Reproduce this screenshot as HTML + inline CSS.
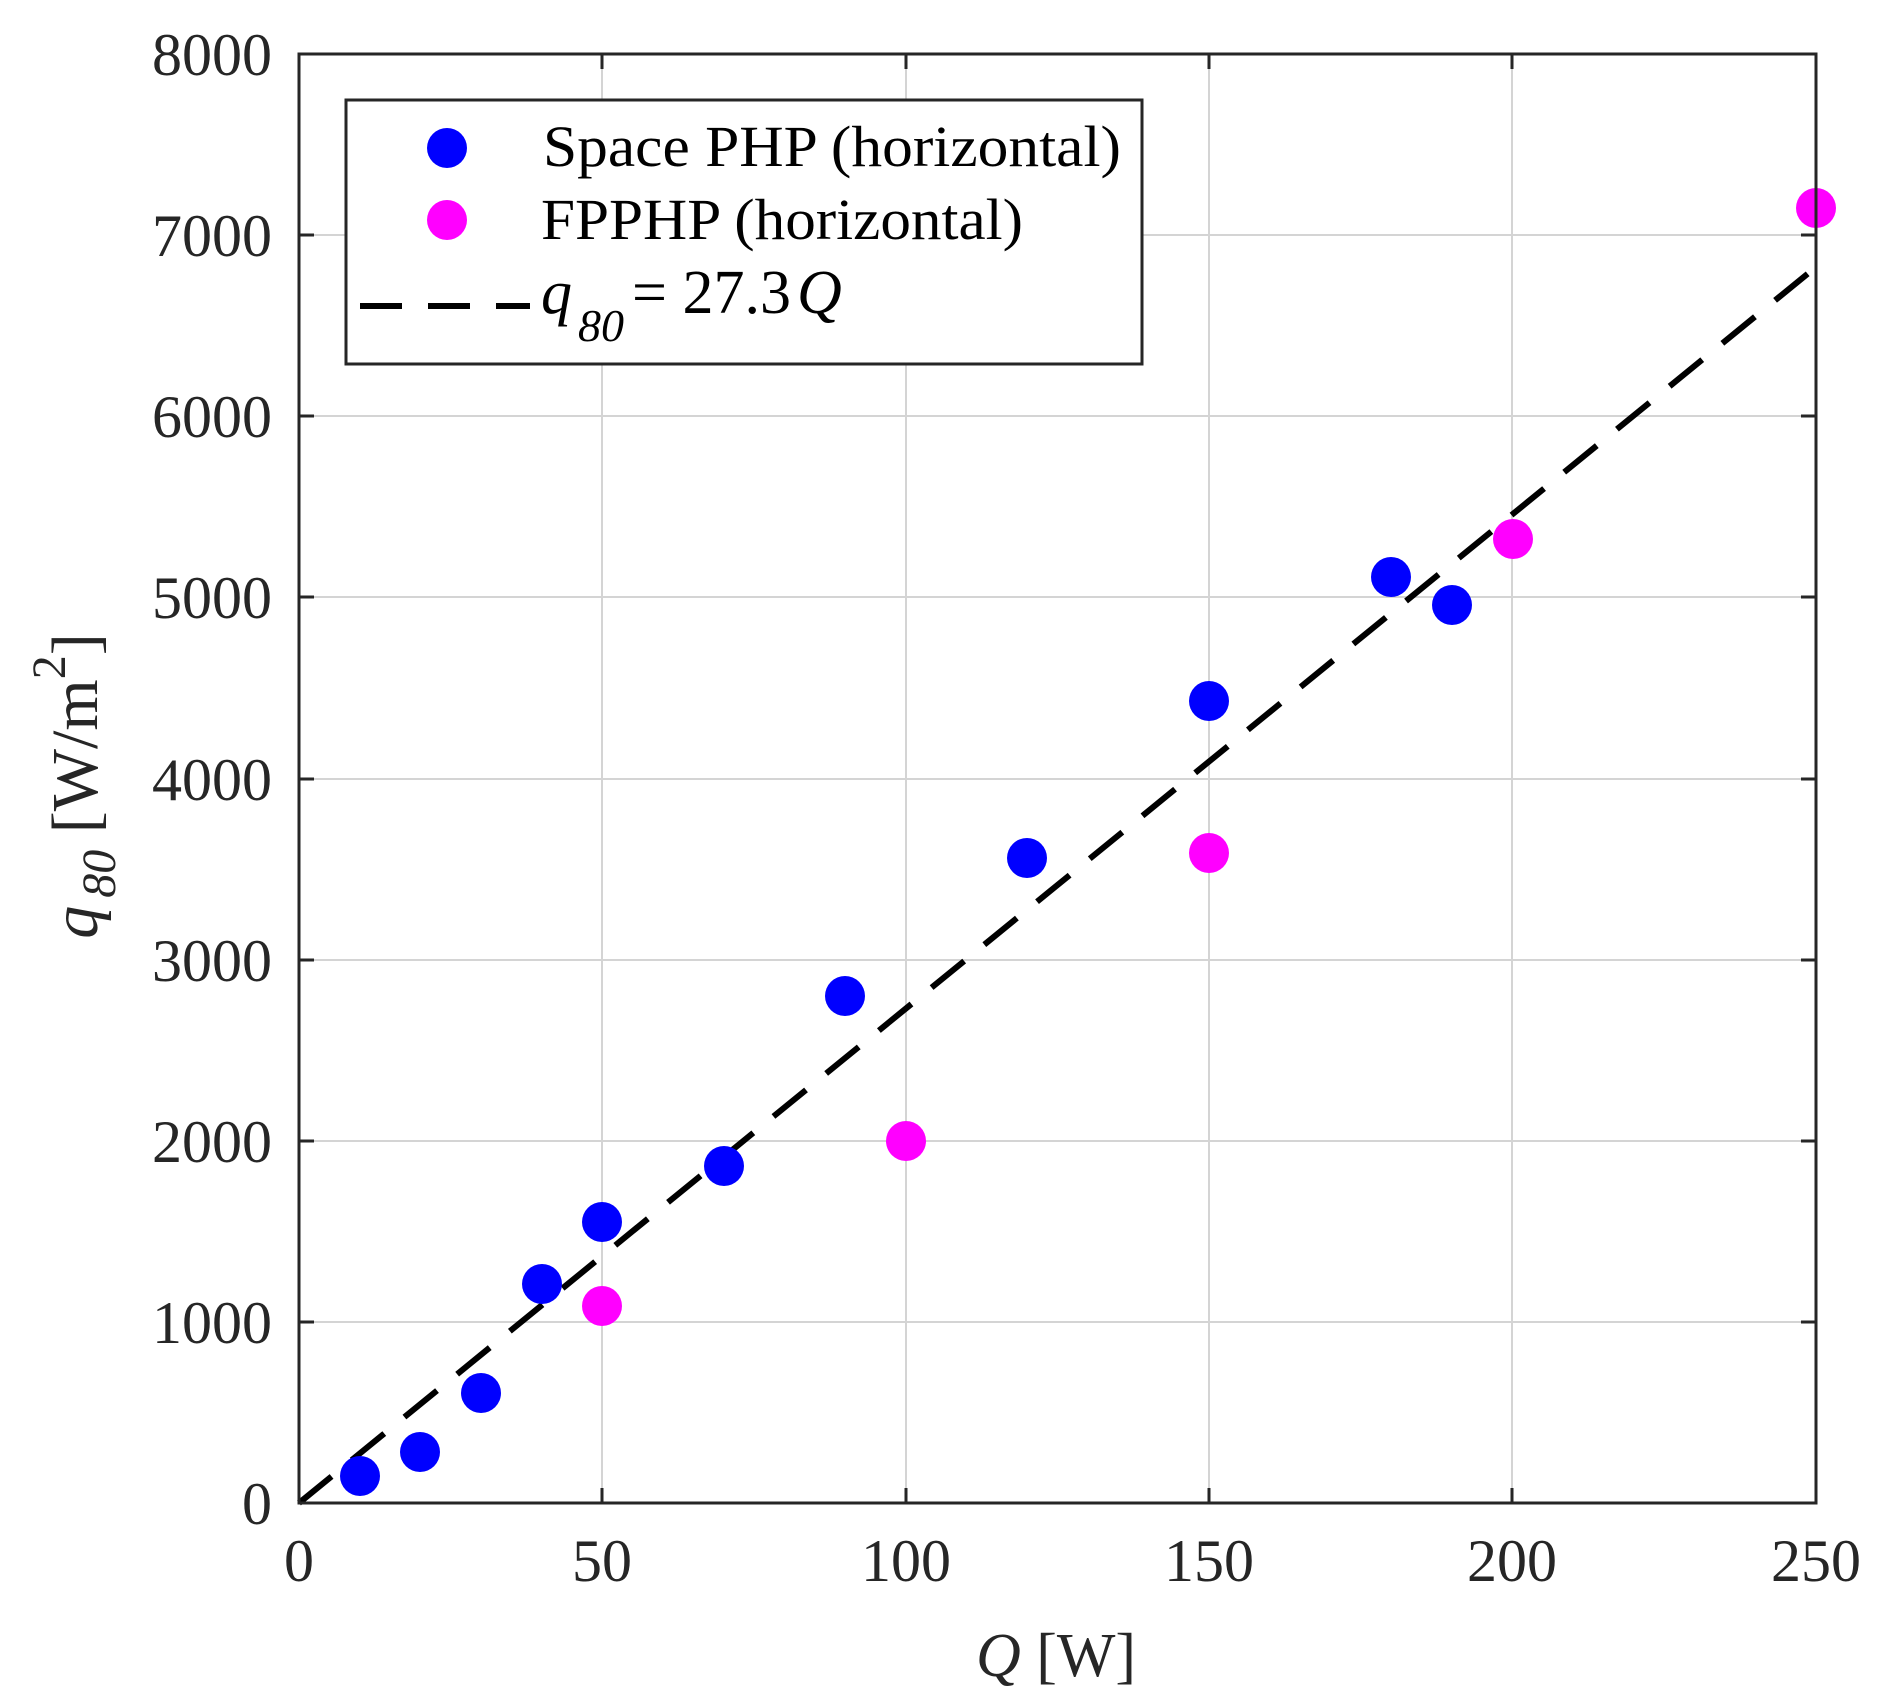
<!DOCTYPE html>
<html><head><meta charset="utf-8"><style>html,body{margin:0;padding:0;background:#fff}svg{display:block}</style></head>
<body>
<svg width="1877" height="1698" viewBox="0 0 1877 1698" xmlns="http://www.w3.org/2000/svg" font-family="'Liberation Serif', serif" fill="#262626">
<rect width="1877" height="1698" fill="#fff"/>
<g stroke="#d4d4d4" stroke-width="2">
<line x1="602" y1="54" x2="602" y2="1503"/><line x1="906" y1="54" x2="906" y2="1503"/><line x1="1209" y1="54" x2="1209" y2="1503"/><line x1="1512" y1="54" x2="1512" y2="1503"/>
<line x1="299" y1="1322" x2="1816" y2="1322"/><line x1="299" y1="1141" x2="1816" y2="1141"/><line x1="299" y1="960" x2="1816" y2="960"/><line x1="299" y1="779" x2="1816" y2="779"/><line x1="299" y1="597" x2="1816" y2="597"/><line x1="299" y1="416" x2="1816" y2="416"/><line x1="299" y1="235" x2="1816" y2="235"/>
</g>
<g stroke="#262626" stroke-width="3">
<line x1="602" y1="1503" x2="602" y2="1488"/><line x1="906" y1="1503" x2="906" y2="1488"/><line x1="1209" y1="1503" x2="1209" y2="1488"/><line x1="1512" y1="1503" x2="1512" y2="1488"/>
<line x1="602" y1="54" x2="602" y2="69"/><line x1="906" y1="54" x2="906" y2="69"/><line x1="1209" y1="54" x2="1209" y2="69"/><line x1="1512" y1="54" x2="1512" y2="69"/>
<line x1="299" y1="1322" x2="314" y2="1322"/><line x1="299" y1="1141" x2="314" y2="1141"/><line x1="299" y1="960" x2="314" y2="960"/><line x1="299" y1="779" x2="314" y2="779"/><line x1="299" y1="597" x2="314" y2="597"/><line x1="299" y1="416" x2="314" y2="416"/><line x1="299" y1="235" x2="314" y2="235"/>
<line x1="1816" y1="1322" x2="1801" y2="1322"/><line x1="1816" y1="1141" x2="1801" y2="1141"/><line x1="1816" y1="960" x2="1801" y2="960"/><line x1="1816" y1="779" x2="1801" y2="779"/><line x1="1816" y1="597" x2="1801" y2="597"/><line x1="1816" y1="416" x2="1801" y2="416"/><line x1="1816" y1="235" x2="1801" y2="235"/>
</g>
<line x1="299" y1="1503" x2="1816" y2="267" stroke="#000" stroke-width="6" stroke-dasharray="42 26"/>
<g fill="#0000ff">
<circle cx="360" cy="1476" r="20"/><circle cx="420" cy="1452" r="20"/><circle cx="481" cy="1393" r="20"/><circle cx="542" cy="1284" r="20"/><circle cx="602" cy="1222" r="20"/><circle cx="724" cy="1166" r="20"/><circle cx="845" cy="996" r="20"/><circle cx="1027" cy="858" r="20"/><circle cx="1209" cy="701" r="20"/><circle cx="1391" cy="577" r="20"/><circle cx="1452" cy="605" r="20"/>
</g>
<g fill="#ff00ff">
<circle cx="602" cy="1306" r="20"/><circle cx="906" cy="1141" r="20"/><circle cx="1209" cy="853" r="20"/><circle cx="1513" cy="539" r="20"/><circle cx="1816" cy="208" r="20"/>
</g>
<rect x="299" y="54" width="1517" height="1449" fill="none" stroke="#262626" stroke-width="3"/>
<g font-size="60" text-anchor="end">
<text x="272" y="1524">0</text><text x="272" y="1343">1000</text><text x="272" y="1162">2000</text><text x="272" y="981">3000</text><text x="272" y="800">4000</text><text x="272" y="618">5000</text><text x="272" y="437">6000</text><text x="272" y="256">7000</text><text x="272" y="75">8000</text>
</g>
<g font-size="60" text-anchor="middle">
<text x="299" y="1581">0</text><text x="602" y="1581">50</text><text x="906" y="1581">100</text><text x="1209" y="1581">150</text><text x="1512" y="1581">200</text><text x="1816" y="1581">250</text>
</g>
<text x="1056" y="1676" font-size="62" text-anchor="middle"><tspan font-style="italic">Q</tspan> [W]</text>
<text transform="translate(97,786) rotate(-90)" font-size="66" text-anchor="middle"><tspan font-style="italic">q</tspan><tspan font-style="italic" font-size="48" dy="18" dx="8">80</tspan><tspan dy="-18"> [W/m</tspan><tspan font-size="48" dy="-32">2</tspan><tspan dy="32">]</tspan></text>
<rect x="346" y="100" width="796" height="264" fill="#fff" stroke="#262626" stroke-width="3"/>
<circle cx="447" cy="148" r="20" fill="#0000ff"/>
<circle cx="447" cy="220" r="20" fill="#ff00ff"/>
<line x1="360" y1="306" x2="530" y2="306" stroke="#000" stroke-width="6" stroke-dasharray="42 26"/>
<g font-size="58" fill="#000">
<text x="543" y="166" textLength="578" lengthAdjust="spacingAndGlyphs">Space PHP (horizontal)</text>
<text x="541" y="239" textLength="482" lengthAdjust="spacingAndGlyphs">FPPHP (horizontal)</text>
<text x="541" y="313" font-size="62"><tspan font-style="italic">q</tspan><tspan font-style="italic" font-size="46" dy="28" dx="6">80</tspan><tspan dy="-28" dx="8">= 27.3</tspan><tspan font-style="italic" dx="6">Q</tspan></text>
</g>
</svg>
</body></html>
